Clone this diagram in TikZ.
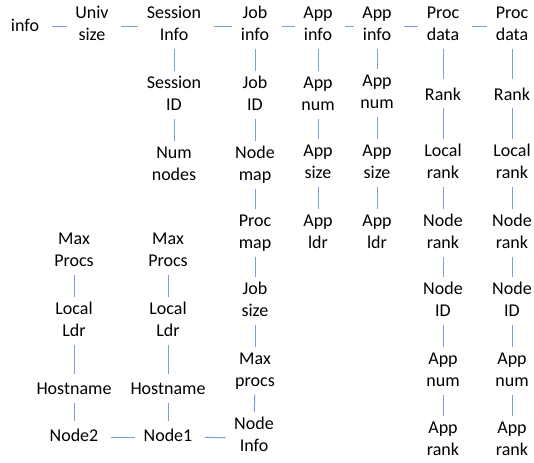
\documentclass[tikz,border=0pt]{standalone}
\usepackage{fontspec}
\setmainfont{Carlito}
\definecolor{linkblue}{RGB}{122,158,222}
\begin{document}
\begin{tikzpicture}[x=1pt, y=-1pt, line width=1pt, main node/.style={align=center,inner xsep=8pt,inner ysep=1pt,font=\fontsize{18}{22}\selectfont,execute at begin node=\strut,execute at end node=\strut}]%
\useasboundingbox (0,0) rectangle (534,462);
\begin{scope}[every node/.style={main node}]
% top row
\node (info) at (25,27) {info};
\node (usize) at (92,27) {Univ\\size};
\node (sinfo) at (174,27) {Session\\Info};
\node (sid) at (174,97) {Session\\ID};
\node (nnodes) at (174,167) {Num\\nodes};
% job column
\node (jinfo) at (255,27) {Job\\info};
\node (jid) at (255,97) {Job\\ID};
\node (nmap) at (255,167) {Node\\map};
\node (pmap) at (255,235) {Proc\\map};
\node (jsize) at (255,303) {Job\\size};
\node (jmaxp) at (255,373) {Max\\procs};
\node (ninfo) at (254,438) {Node\\Info};
% app columns
\node (ainfoa) at (318,27) {App\\info};
\node (anuma) at (318,97) {App\\num};
\node (asizea) at (318,165) {App\\size};
\node (aldra) at (318,235) {App\\ldr};
\node (ainfob) at (377,27) {App\\info};
\node (anumb) at (377,95) {App\\num};
\node (asizeb) at (377,165) {App\\size};
\node (aldrb) at (377,235) {App\\ldr};
% proc columns
\node (pdataa) at (443,27) {Proc\\data};
\node (ranka) at (443,96) {Rank};
\node (lranka) at (443,165) {Local\\rank};
\node (nranka) at (443,235) {Node\\rank};
\node (nida) at (443,303) {Node\\ID};
\node (apnuma) at (443,373) {App\\num};
\node (aprnka) at (443,442) {App\\rank};
\node (pdatab) at (512,27) {Proc\\data};
\node (rankb) at (512,96) {Rank};
\node (lrankb) at (512,165) {Local\\rank};
\node (nrankb) at (512,235) {Node\\rank};
\node (nidb) at (512,303) {Node\\ID};
\node (apnumb) at (512,373) {App\\num};
\node (aprnkb) at (512,442) {App\\rank};
% nodes
\node (maxpb) at (74,253) {Max\\Procs};
\node (lldrb) at (74,323) {Local\\Ldr};
\node (hostb) at (74,390) {Hostname};
\node (nodetwo) at (74,437) {Node2};
\node (maxpa) at (168,253) {Max\\Procs};
\node (lldra) at (168,323) {Local\\Ldr};
\node (hosta) at (168,390) {Hostname};
\node (nodeone) at (168,437) {Node1};
\end{scope}
\begin{scope}[linkblue, shorten <=4pt]
\draw (info) edge (usize);
\draw (usize) edge (sinfo);
\draw (sinfo) edge (jinfo);
\draw (jinfo) edge (ainfoa);
\draw (ainfoa) edge (ainfob);
\draw (ainfob) edge (pdataa);
\draw (pdataa) edge (pdatab);
\draw (nodetwo) edge (nodeone);
\draw (nodeone) edge (ninfo);
\end{scope}
\begin{scope}[linkblue, shorten >=4pt]
\draw (sinfo) edge (sid);
\draw (sid) edge (nnodes);
\draw (jinfo) edge (jid);
\draw (jid) edge (nmap);
\draw (nmap) edge (pmap);
\draw (pmap) edge (jsize);
\draw (jsize) edge (jmaxp);
\draw (jmaxp) edge (ninfo);
\draw (ainfoa) edge (anuma);
\draw (anuma) edge (asizea);
\draw (asizea) edge (aldra);
\draw (ainfob) edge (anumb);
\draw (anumb) edge (asizeb);
\draw (asizeb) edge (aldrb);
\draw (pdataa) edge (ranka);
\draw (ranka) edge (lranka);
\draw (lranka) edge (nranka);
\draw (nranka) edge (nida);
\draw (nida) edge (apnuma);
\draw (apnuma) edge (aprnka);
\draw (pdatab) edge (rankb);
\draw (rankb) edge (lrankb);
\draw (lrankb) edge (nrankb);
\draw (nrankb) edge (nidb);
\draw (nidb) edge (apnumb);
\draw (apnumb) edge (aprnkb);
\draw (maxpb) edge (lldrb);
\draw (lldrb) edge (hostb);
\draw (hostb) edge (nodetwo);
\draw (maxpa) edge (lldra);
\draw (lldra) edge (hosta);
\draw (hosta) edge (nodeone);
\end{scope}
\end{tikzpicture}
\end{document}
